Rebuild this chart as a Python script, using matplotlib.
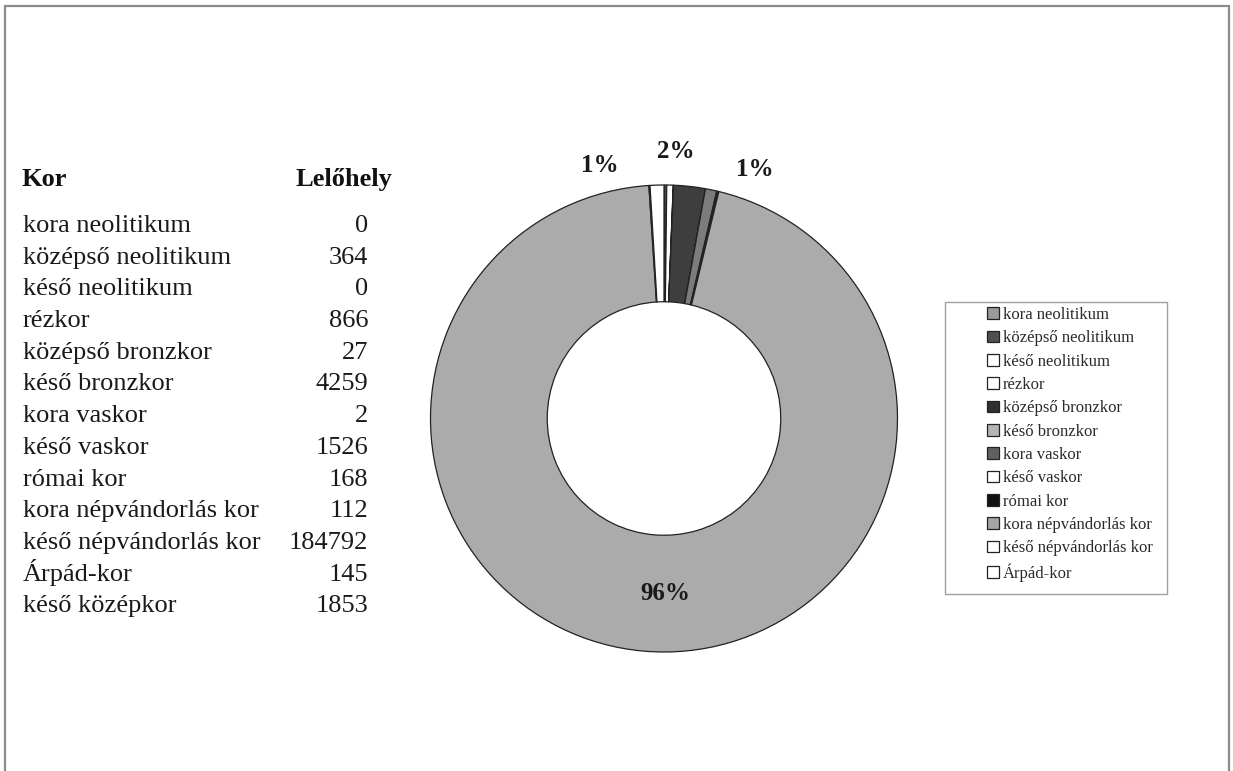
import matplotlib
matplotlib.use("Agg")
import matplotlib.pyplot as plt
from matplotlib.patches import Patch, Rectangle

periods = ["kora neolitikum", "középső neolitikum", "késő neolitikum", "rézkor",
           "középső bronzkor", "késő bronzkor", "kora vaskor", "késő vaskor",
           "római kor", "kora népvándorlás kor", "késő népvándorlás kor",
           "Árpád-kor", "késő középkor"]
sites = [0, 364, 0, 866, 27, 4259, 2, 1526, 168, 112, 184792, 145, 1853]
pct_labels = ["1%", "2%", "1%", "96%"]

slice_colors = ["#9a9a9a", "#4a4a4a", "#ffffff", "#ffffff", "#2a2a2a", "#3e3e3e",
                "#5e5e5e", "#7c7c7c", "#111111", "#a0a0a0", "#ababab", "#ffffff", "#ffffff"]
legend_colors = ["#9a9a9a", "#505050", "#ffffff", "#ffffff", "#303030", "#b4b4b4",
                 "#606060", "#ffffff", "#111111", "#a4a4a4", "#ffffff", "#ffffff"]

W, H = 1233, 771
fig = plt.figure(figsize=(W / 100, H / 100), dpi=100)
serif = "Liberation Serif"


def fy(py):
    return 1 - py / H


# outer border
fig.patches.append(Rectangle((5 / W, -0.01), (1229 - 5) / W, 1 - 6 / H + 0.01,
                             transform=fig.transFigure, fill=False,
                             edgecolor="#8c8c8c", linewidth=1.6))

# table
fig.text(22 / W, fy(186), "Kor", fontsize=19, fontweight="bold", family=serif,
         va="baseline", color="#111111")
fig.text(296 / W, fy(186), "Lelőhely", fontsize=19, fontweight="bold", family=serif,
         va="baseline", color="#111111")
for i, (p, s) in enumerate(zip(periods, sites)):
    y = 232 + i * 31.7
    fig.text(23 / W, fy(y), p, fontsize=19, family=serif, va="baseline", color="#1a1a1a")
    fig.text(368 / W, fy(y), str(s), fontsize=19, family=serif, va="baseline", ha="right",
             color="#1a1a1a")

# donut
cx, cy, r = 664, 418.5, 233.5
ax = fig.add_axes([(cx - r) / W, (H - cy - r) / H, 2 * r / W, 2 * r / H])
wedges, _ = ax.pie(sites, colors=slice_colors, startangle=90, counterclock=False,
                   radius=1.0, wedgeprops=dict(width=0.5, edgecolor="#222222", linewidth=0.9))
ax.set_xlim(-1, 1)
ax.set_ylim(-1, 1)
ax.set_aspect("equal")
ax.axis("off")

label_pos = [(-0.274, 1.082), (0.051, 1.142), (0.389, 1.065), (0.008, -0.75)]
for t, (x, y) in zip(pct_labels, label_pos):
    ax.text(x, y, t, fontsize=18, fontweight="bold", family=serif, ha="center",
            va="center", clip_on=False, color="#1a1a1a")

# legend
fig.patches.append(Rectangle((945 / W, fy(594)), (1167 - 945) / W, (594 - 302) / H,
                             transform=fig.transFigure, fill=False,
                             edgecolor="#a0a0a0", linewidth=1.0))
handles = [Patch(facecolor=c, edgecolor="#222222", linewidth=0.9) for c in legend_colors]
leg = fig.legend(handles, periods[:12], loc="upper left",
                 bbox_to_anchor=(987 / W, fy(307)), frameon=False,
                 prop={"family": serif, "size": 12}, handlelength=0.72, handleheight=0.72,
                 handletextpad=0.25, labelspacing=0.44, borderpad=0, borderaxespad=0)
for t in leg.get_texts():
    t.set_color("#2a2a2a")

fig.savefig("out.png", dpi=100, facecolor="white")
